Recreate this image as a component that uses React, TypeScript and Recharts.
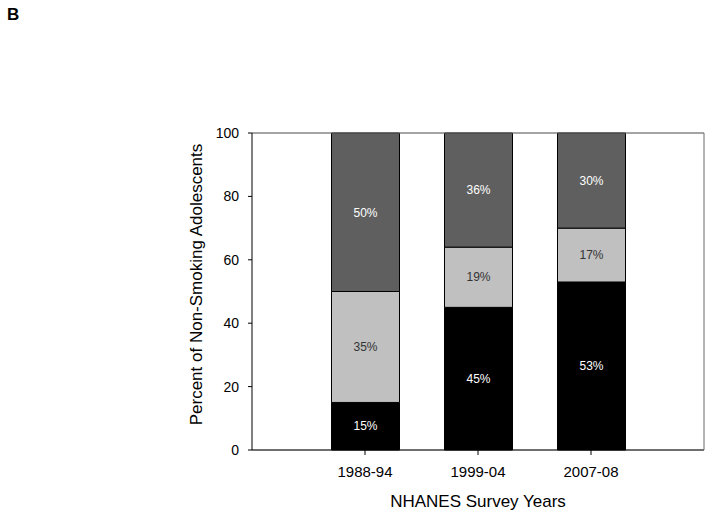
import React from 'react';
import { BarChart, Bar, XAxis, YAxis, CartesianGrid, LabelList, ReferenceLine } from 'recharts';

const categories = ['1988-94', '1999-04', '2007-08'];
const blackValues = [15, 45, 53];
const lightValues = [35, 19, 17];
const darkValues = [50, 36, 30];
const yTicks = [0, 20, 40, 60, 80, 100];

const FONT = '"Liberation Sans", Arial, sans-serif';

const data = categories.map((cat, i) => ({
  cat,
  black: blackValues[i],
  light: lightValues[i],
  dark: darkValues[i],
}));

const pct = (v: any) => `${v}%`;

const XTitle = (props: any) => {
  const vb = props.viewBox || {};
  return (
    <text
      x={vb.x + vb.width / 2}
      y={vb.y + 57}
      textAnchor="middle"
      fontSize={17}
      fontFamily={FONT}
      fill="#000"
    >
      NHANES Survey Years
    </text>
  );
};

const YTitle = (props: any) => {
  const vb = props.viewBox || {};
  const cx = 202;
  const cy = vb.y + vb.height / 2 - 7;
  return (
    <text
      x={cx}
      y={cy}
      transform={`rotate(-90, ${cx}, ${cy})`}
      textAnchor="middle"
      fontSize={17}
      fontFamily={FONT}
      fill="#000"
    >
      Percent of Non-Smoking Adolescents
    </text>
  );
};

export default function App() {
  return (
    <div style={{ position: 'absolute', left: 0, top: 0, width: 714, height: 522, background: '#fff', fontFamily: FONT }}>
      <div style={{ position: 'absolute', left: 7, top: 5, fontSize: 17, lineHeight: '19px', fontWeight: 'bold', color: '#000' }}>B</div>
      <BarChart
        width={714}
        height={522}
        data={data}
        margin={{ top: 133, right: 9, bottom: 0, left: 0 }}
        style={{ fontFamily: FONT }}
      >
        <CartesianGrid vertical={false} stroke="#bdbdbd" strokeWidth={1} />
        <XAxis
          dataKey="cat"
          padding={{ left: 56.5, right: 56.5 }}
          height={72}
          tickSize={5}
          tickMargin={11}
          axisLine={{ stroke: '#000' }}
          tickLine={{ stroke: '#000' }}
          tick={{ fontSize: 15, fill: '#000', fontFamily: FONT }}
          label={<XTitle />}
        />
        <YAxis
          yAxisId="left"
          width={252}
          domain={[0, 100]}
          ticks={yTicks}
          tickSize={4}
          tickMargin={9}
          axisLine={{ stroke: '#000' }}
          tickLine={{ stroke: '#000' }}
          tick={{ fontSize: 14, fill: '#000', fontFamily: FONT }}
          label={<YTitle />}
        />
        <YAxis
          yAxisId="right"
          orientation="right"
          width={1}
          domain={[0, 100]}
          ticks={yTicks}
          tick={false}
          tickLine={false}
          axisLine={{ stroke: '#6a6a6a' }}
        />
        <ReferenceLine yAxisId="left" y={100} stroke="#6a6a6a" />
        <Bar yAxisId="left" dataKey="black" stackId="a" fill="#000000" stroke="#000" strokeWidth={1} barSize={68} isAnimationActive={false}>
          <LabelList dataKey="black" position="center" formatter={pct} fill="#ffffff" fontSize={12} fontFamily={FONT} />
        </Bar>
        <Bar yAxisId="left" dataKey="light" stackId="a" fill="#c0c0c0" stroke="#000" strokeWidth={1} barSize={68} isAnimationActive={false}>
          <LabelList dataKey="light" position="center" formatter={pct} fill="#333333" fontSize={12} fontFamily={FONT} />
        </Bar>
        <Bar yAxisId="left" dataKey="dark" stackId="a" fill="#5f5f5f" stroke="#000" strokeWidth={1} barSize={68} isAnimationActive={false}>
          <LabelList dataKey="dark" position="center" formatter={pct} fill="#ffffff" fontSize={12} fontFamily={FONT} />
        </Bar>
      </BarChart>
    </div>
  );
}
